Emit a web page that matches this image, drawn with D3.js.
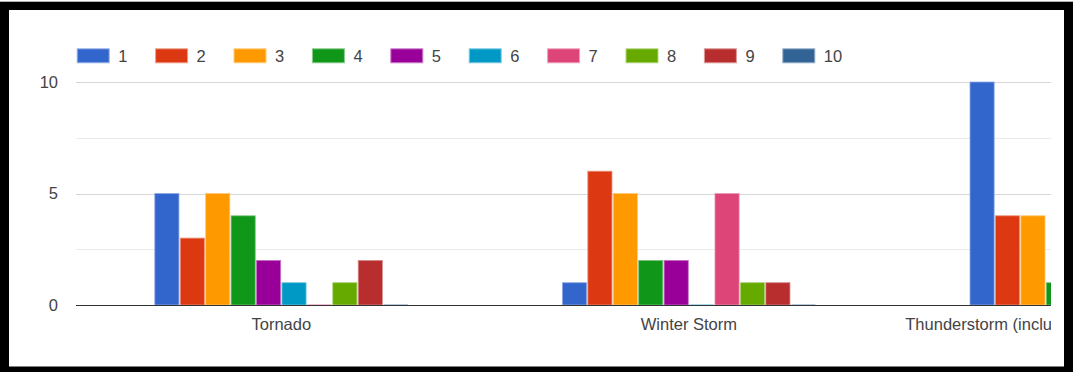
<!DOCTYPE html>
<html>
<head>
<meta charset="utf-8">
<script src="https://cdn.jsdelivr.net/npm/d3@7/dist/d3.min.js"></script>
<style>
  html, body { margin: 0; padding: 0; background: #fff; }
  svg { display: block; font-family: Arial, "Liberation Sans", sans-serif; }
</style>
</head>
<body>
<svg id="chart" width="1073" height="372"></svg>
<script>
// Survey responses per event type, one series per rating 1–10
const categories = ["Tornado", "Winter Storm", "Thunderstorm (including hail and straight-line winds)"];
const seriesNames = ["1", "2", "3", "4", "5", "6", "7", "8", "9", "10"];
const tornado = [5, 3, 5, 4, 2, 1, 0, 1, 2, 0];
const winterStorm = [1, 6, 5, 2, 2, 0, 5, 1, 1, 0];
const thunderstorm = [10, 4, 4, 1, null, null, null, null, null, null];
const yTicks = [0, 5, 10];
const yMinorTicks = [2.5, 7.5];
const colors = ["#3366cc", "#dc3912", "#ff9900", "#109618", "#990099",
                "#0099c6", "#dd4477", "#66aa00", "#b82e2e", "#316395"];

const valuesByCategory = [tornado, winterStorm, thunderstorm];

const W = 1073, H = 372;
const svg = d3.select("#chart");

// Frame
svg.append("rect").attr("x", 0).attr("y", 0).attr("width", W).attr("height", H).attr("fill", "#fff");
svg.append("rect").attr("x", 0).attr("y", 1.7).attr("width", W).attr("height", H - 1.7).attr("fill", "#000");
svg.append("rect").attr("x", 9).attr("y", 10).attr("width", 1055).attr("height", 356.5).attr("fill", "#fff");

const plotLeft = 76, plotRight = 1051;
const groupStep = 407.6;

const x0 = d3.scaleBand()
  .domain(categories)
  .range([77.5, 77.5 + groupStep * categories.length])
  .paddingInner(0).paddingOuter(0);

const groupWidth = 253;
const x1 = d3.scaleBand()
  .domain(seriesNames)
  .range([(groupStep - groupWidth) / 2, (groupStep + groupWidth) / 2])
  .paddingInner(0.05).paddingOuter(0);

const y = d3.scaleLinear().domain([0, 10]).range([305, 82]);

svg.append("defs").append("clipPath").attr("id", "plotClip")
  .append("rect").attr("x", 0).attr("y", 0).attr("width", plotRight).attr("height", H);

const plot = svg.append("g").attr("clip-path", "url(#plotClip)");

// Gridlines
plot.selectAll("line.minor").data(yMinorTicks).join("line")
  .attr("x1", plotLeft).attr("x2", plotRight + 200)
  .attr("y1", d => Math.round(y(d)) + 0.5).attr("y2", d => Math.round(y(d)) + 0.5)
  .attr("stroke", "#ebebeb").attr("stroke-width", 1);
plot.selectAll("line.major").data(yTicks.filter(d => d !== 0)).join("line")
  .attr("x1", plotLeft).attr("x2", plotRight + 200)
  .attr("y1", d => Math.round(y(d)) + 0.5).attr("y2", d => Math.round(y(d)) + 0.5)
  .attr("stroke", "#d6d6d6").attr("stroke-width", 1);

// Bars
const barData = [];
categories.forEach((c, ci) => {
  valuesByCategory[ci].forEach((v, si) => {
    if (v !== null) barData.push({ cat: c, series: seriesNames[si], value: v, color: colors[si] });
  });
});

plot.selectAll("rect.bar").data(barData.filter(d => d.value > 0)).join("rect")
  .attr("class", "bar")
  .attr("x", d => x0(d.cat) + x1(d.series))
  .attr("y", d => y(d.value))
  .attr("width", x1.bandwidth())
  .attr("height", d => y(0) - y(d.value))
  .attr("fill", d => d.color)
  .attr("stroke", d => d3.interpolateRgb(d.color, "#fff")(0.45))
  .attr("stroke-width", 0.8);

// Zero-valued entries show as a faint sliver on the baseline
plot.selectAll("rect.zero").data(barData.filter(d => d.value === 0)).join("rect")
  .attr("x", d => x0(d.cat) + x1(d.series))
  .attr("y", y(0) - 1)
  .attr("width", x1.bandwidth())
  .attr("height", 1)
  .attr("fill", d => d.color)
  .attr("opacity", 0.35);

// Baseline
plot.append("line")
  .attr("x1", plotLeft).attr("x2", plotRight + 200)
  .attr("y1", y(0) + 0.5).attr("y2", y(0) + 0.5)
  .attr("stroke", "#333").attr("stroke-width", 1);

// Category axis (the chart area scrolls, so the last label runs past the visible edge)
const xAxis = plot.append("g")
  .attr("transform", `translate(0,${y(0)})`)
  .call(d3.axisBottom(x0).tickSize(0).tickPadding(13));
xAxis.select(".domain").remove();
xAxis.selectAll("text")
  .attr("font-size", 16.5).attr("fill", "#444")
  .attr("font-family", 'Arial, "Liberation Sans", sans-serif');

// Value axis
const yAxis = svg.append("g")
  .attr("transform", "translate(58,0)")
  .call(d3.axisLeft(y).tickValues(yTicks).tickSize(0).tickPadding(0));
yAxis.select(".domain").remove();
yAxis.selectAll("text")
  .attr("font-size", 16.5).attr("fill", "#444")
  .attr("font-family", 'Arial, "Liberation Sans", sans-serif');

// Legend
const legendStep = 78.4;
const legend = svg.append("g").selectAll("g").data(seriesNames).join("g")
  .attr("transform", (d, i) => `translate(${76.7 + i * legendStep},48.3)`);
legend.append("rect")
  .attr("x", 0.5).attr("y", 0.5).attr("width", 32).attr("height", 14)
  .attr("fill", (d, i) => colors[i])
  .attr("stroke", (d, i) => d3.interpolateRgb(colors[i], "#fff")(0.5))
  .attr("stroke-width", 1);
legend.append("text")
  .attr("x", 41.5).attr("y", 7.5)
  .attr("dy", "0.35em")
  .attr("font-size", 16.5).attr("fill", "#444")
  .text(d => d);
</script>
</body>
</html>
